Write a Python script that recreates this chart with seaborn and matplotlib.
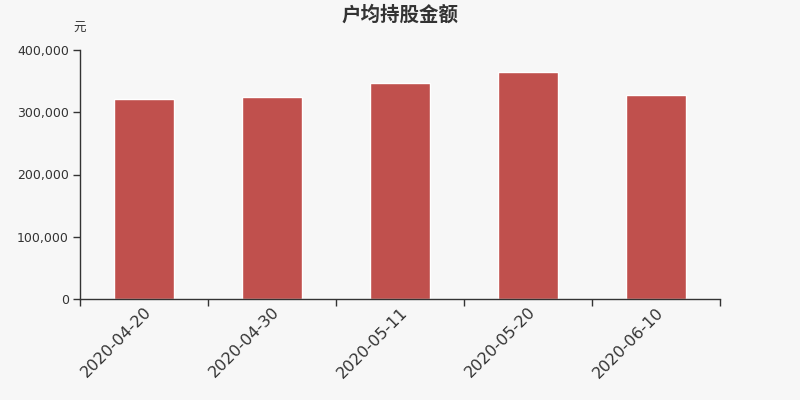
import pandas as pd
import matplotlib.pyplot as plt
import seaborn as sns

dates = ['2020-04-20', '2020-04-30', '2020-05-11', '2020-05-20', '2020-06-10']
amounts = [322000, 325000, 347500, 365000, 327000]

df = pd.DataFrame({'date': dates, 'amount': amounts})

sns.set_style('white')
plt.rcParams['font.family'] = ['Noto Sans CJK SC', 'DejaVu Sans']

bg = '#f7f7f7'
fig = plt.figure(figsize=(8, 4), dpi=100, facecolor=bg)
ax = fig.add_axes([0.1, 0.2525, 0.8, 0.6225], facecolor=bg)

sns.barplot(data=df, x='date', y='amount', color='#c0504d', saturation=1,
            width=0.47, ax=ax)

ax.set_xlim(-0.5, len(dates) - 0.5)
ax.set_ylim(0, 400000)
yticks = [0, 100000, 200000, 300000, 400000]
ax.set_yticks(yticks)
ax.set_yticklabels([f'{v:,}' for v in yticks],
                   family='DejaVu Sans', fontsize=9, color='#333333')

# ticks on category edges, labels under the bars
ax.set_xticks([i - 0.5 for i in range(len(dates) + 1)], minor=False)
ax.set_xticklabels([])
ax.set_xticks(range(len(dates)), minor=True)
ax.set_xticklabels(dates, minor=True, rotation=45, ha='right',
                   rotation_mode='anchor', family='DejaVu Sans',
                   fontsize=11.5, color='#333333')
ax.tick_params(axis='x', which='minor', bottom=False, length=0, pad=4)
ax.tick_params(axis='x', which='major', bottom=True, length=5, width=1,
               color='#333333', direction='out')
ax.tick_params(axis='y', left=True, length=5, width=1, color='#333333',
               direction='out', pad=3)

for side in ['top', 'right']:
    ax.spines[side].set_visible(False)
for side in ['left', 'bottom']:
    ax.spines[side].set_color('#333333')
    ax.spines[side].set_linewidth(1)

ax.set_xlabel('')
ax.set_ylabel('')
fig.text(0.5, 0.963, '户均持股金额', ha='center', va='center', fontsize=14,
         fontweight='bold', color='#333333')
fig.text(0.099, 0.928, '元', ha='center', va='center', fontsize=9,
         color='#333333')

fig.savefig('out.png', dpi=100, facecolor=bg)
